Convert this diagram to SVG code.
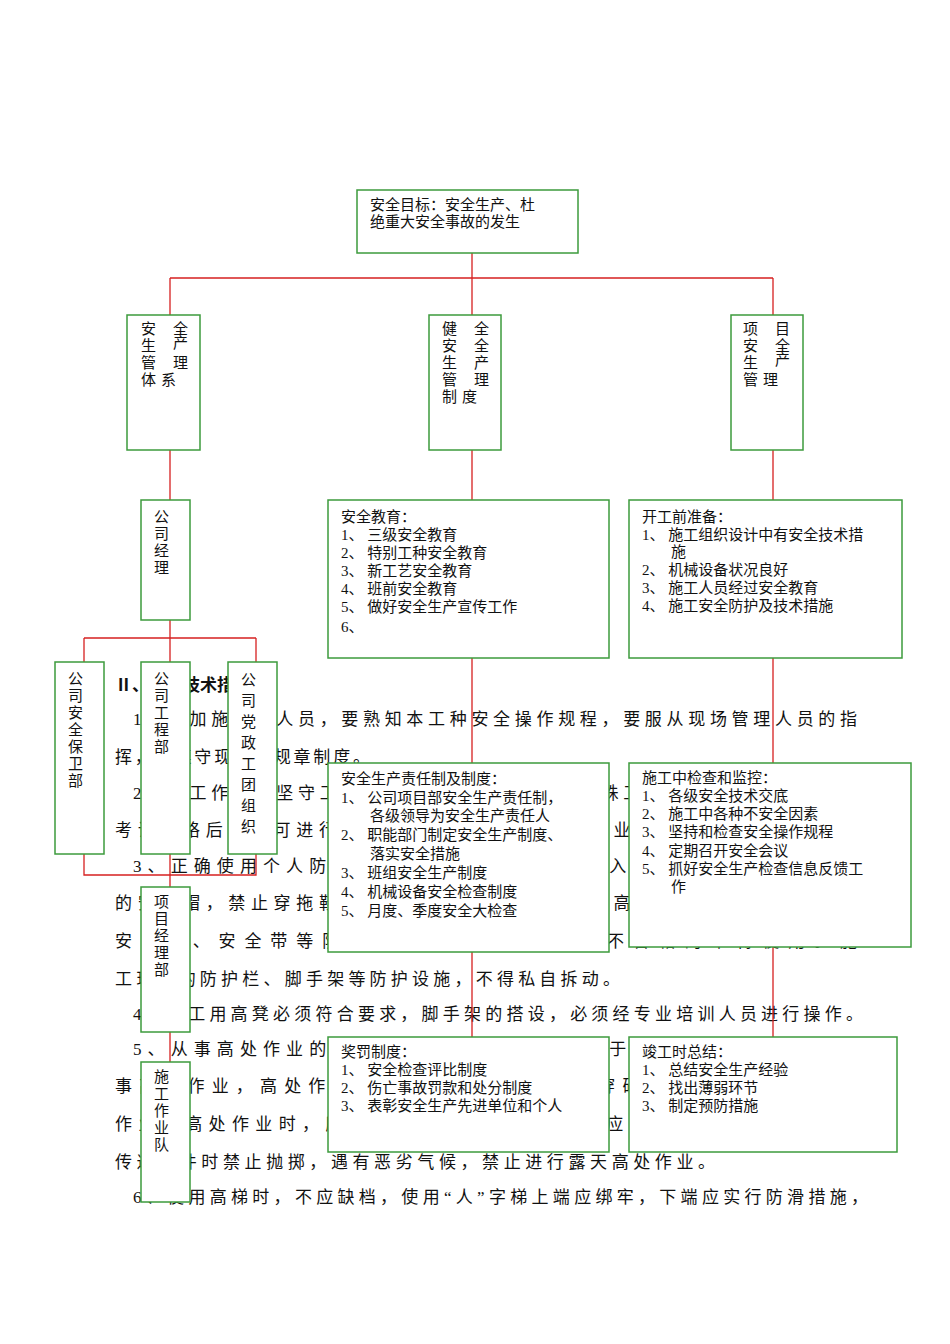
<svg xmlns="http://www.w3.org/2000/svg" width="950" height="1344" viewBox="0 0 950 1344">
<style>
.b{fill:#fff;stroke:#3c9b3c;stroke-width:1.5}
.l{stroke:#d62020;stroke-width:1.3;fill:none}
.t{font-family:"Liberation Serif","Noto Sans CJK SC",serif;font-size:15px;fill:#111}
.p{font-family:"Liberation Serif","Noto Sans CJK SC",serif;font-size:17px;fill:#111}
</style>
<rect width="950" height="1344" fill="#fff"/>
<g id="body">
<text class="p" x="115" y="691" font-weight="bold">Ⅱ、安全技术措施</text>
<text class="p" x="133" y="725" textLength="724" lengthAdjust="spacing">1、参加施工的人员，要熟知本工种安全操作规程，要服从现场管理人员的指</text>
<text class="p" x="115" y="763" textLength="255" lengthAdjust="spacing">挥，要遵守现场的规章制度。</text>
<text class="p" x="133" y="799" textLength="724" lengthAdjust="spacing">2、在工作中要坚守工作岗位，不准随意串岗，特殊工种施工人员必须经培训</text>
<text class="p" x="115" y="836" textLength="742" lengthAdjust="spacing">考试合格后，方可进行独立操作，严禁无证上岗作业，杜绝违章指挥与违章</text>
<text class="p" x="133" y="872" textLength="724" lengthAdjust="spacing">3、正确使用个人防护用品和安全防护措施，进入施工现场必须戴好合格</text>
<text class="p" x="115" y="909" textLength="742" lengthAdjust="spacing">的安全帽，禁止穿拖鞋或光脚，在没有防护设施的高空作业必须系好安全带</text>
<text class="p" x="115" y="947" textLength="742" lengthAdjust="spacing">安全网、安全带等防护用品，不符合要求或不合格的不得使用。施</text>
<text class="p" x="115" y="985" textLength="505" lengthAdjust="spacing">工现场的防护栏、脚手架等防护设施，不得私自拆动。</text>
<text class="p" x="133" y="1020" textLength="730" lengthAdjust="spacing">4、施工用高凳必须符合要求，脚手架的搭设，必须经专业培训人员进行操作。</text>
<text class="p" x="133" y="1055" textLength="724" lengthAdjust="spacing">5、从事高处作业的人员，要定期体检，凡不适于高处作业的人员不得从</text>
<text class="p" x="115" y="1092" textLength="742" lengthAdjust="spacing">事高处作业，高处作业人员衣着要灵便，禁止穿硬底和带钉易滑的鞋靴</text>
<text class="p" x="115" y="1130" textLength="742" lengthAdjust="spacing">作业。高处作业时，所用材料要堆放平稳，工具应随手放入工具袋，应防</text>
<text class="p" x="115" y="1168" textLength="600" lengthAdjust="spacing">传递物件时禁止抛掷，遇有恶劣气候，禁止进行露天高处作业。</text>
<text class="p" x="133" y="1203" textLength="735" lengthAdjust="spacing">6、使用高梯时，不应缺档，使用“人”字梯上端应绑牢，下端应实行防滑措施，</text>
</g>
<g id="connectors">
<path class="l" d="M472 253V278M170 278H773M170 278V315M472 278V315M773 278V315"/>
<path class="l" d="M170 450V500M472 450V500M773 450V500"/>
<path class="l" d="M170 620V662M84 638H256M84 638V662M256 638V662"/>
<path class="l" d="M84 854V875H256V854M170 854V887M170 1032V1062"/>
<path class="l" d="M472 658V763M773 658V763M472 952V1037M773 947V1037"/>
</g>
<g id="goal"><rect class="b" x="357" y="190" width="221" height="63"/>
<text class="t" x="370" y="210">安全目标：安全生产、杜</text><text class="t" x="370" y="227">绝重大安全事故的发生</text></g>
<g id="sys"><rect class="b" x="127" y="315" width="73" height="135"/>
<text class="t" x="141" y="334">安</text><text class="t" x="173" y="334">全</text>
<text class="t" x="141" y="351">生</text><text class="t" x="173" y="348">产</text>
<text class="t" x="141" y="368">管</text><text class="t" x="173" y="368">理</text>
<text class="t" x="141" y="385">体</text><text class="t" x="161" y="385">系</text></g>
<g id="rules"><rect class="b" x="429" y="315" width="72" height="135"/>
<text class="t" x="442" y="334">健</text><text class="t" x="474" y="334">全</text>
<text class="t" x="442" y="351">安</text><text class="t" x="474" y="351">全</text>
<text class="t" x="442" y="368">生</text><text class="t" x="474" y="368">产</text>
<text class="t" x="442" y="385">管</text><text class="t" x="474" y="385">理</text>
<text class="t" x="442" y="402">制</text><text class="t" x="462" y="402">度</text></g>
<g id="proj"><rect class="b" x="731" y="315" width="72" height="135"/>
<text class="t" x="743" y="334">项</text><text class="t" x="775" y="334">目</text>
<text class="t" x="743" y="351">安</text><text class="t" x="775" y="351">全</text>
<text class="t" x="743" y="368">生</text><text class="t" x="775" y="365">产</text>
<text class="t" x="743" y="385">管</text><text class="t" x="763" y="385">理</text></g>
<g id="mgr"><rect class="b" x="141" y="500" width="49" height="120"/>
<text class="t" x="154" y="522">公</text><text class="t" x="154" y="539">司</text><text class="t" x="154" y="556">经</text><text class="t" x="154" y="573">理</text></g>
<g id="edu"><rect class="b" x="328" y="500" width="281" height="158"/>
<text class="t" x="341" y="522">安全教育：</text>
<text class="t" x="341" y="540">1、 三级安全教育</text>
<text class="t" x="341" y="558">2、 特别工种安全教育</text>
<text class="t" x="341" y="576">3、 新工艺安全教育</text>
<text class="t" x="341" y="594">4、 班前安全教育</text>
<text class="t" x="341" y="612">5、 做好安全生产宣传工作</text>
<text class="t" x="341" y="632">6、</text></g>
<g id="prep"><rect class="b" x="629" y="500" width="273" height="158"/>
<text class="t" x="642" y="522">开工前准备：</text>
<text class="t" x="642" y="540">1、 施工组织设计中有安全技术措</text>
<text class="t" x="671" y="557">施</text>
<text class="t" x="642" y="575">2、 机械设备状况良好</text>
<text class="t" x="642" y="593">3、 施工人员经过安全教育</text>
<text class="t" x="642" y="611">4、 施工安全防护及技术措施</text></g>
<g id="guard"><rect class="b" x="55" y="662" width="49" height="192"/>
<text class="t" x="68" y="684">公</text><text class="t" x="68" y="701">司</text><text class="t" x="68" y="718">安</text><text class="t" x="68" y="735">全</text><text class="t" x="68" y="752">保</text><text class="t" x="68" y="769">卫</text><text class="t" x="68" y="786">部</text></g>
<g id="eng"><rect class="b" x="141" y="662" width="49" height="192"/>
<text class="t" x="154" y="684">公</text><text class="t" x="154" y="701">司</text><text class="t" x="154" y="718">工</text><text class="t" x="154" y="735">程</text><text class="t" x="154" y="752">部</text></g>
<g id="party"><rect class="b" x="228" y="662" width="49" height="192"/>
<text class="t" x="241" y="685">公</text><text class="t" x="241" y="706">司</text><text class="t" x="241" y="727">党</text><text class="t" x="241" y="748">政</text><text class="t" x="241" y="769">工</text><text class="t" x="241" y="790">团</text><text class="t" x="241" y="811">组</text><text class="t" x="241" y="832">织</text></g>
<g id="resp"><rect class="b" x="328" y="763" width="281" height="189"/>
<text class="t" x="341" y="784">安全生产责任制及制度：</text>
<text class="t" x="341" y="803">1、 公司项目部安全生产责任制，</text>
<text class="t" x="370" y="821">各级领导为安全生产责任人</text>
<text class="t" x="341" y="840">2、 职能部门制定安全生产制度、</text>
<text class="t" x="370" y="859">落实安全措施</text>
<text class="t" x="341" y="878">3、 班组安全生产制度</text>
<text class="t" x="341" y="897">4、 机械设备安全检查制度</text>
<text class="t" x="341" y="916">5、 月度、季度安全大检查</text></g>
<g id="check"><rect class="b" x="629" y="763" width="282" height="184"/>
<text class="t" x="642" y="783">施工中检查和监控：</text>
<text class="t" x="642" y="801">1、 各级安全技术交底</text>
<text class="t" x="642" y="819">2、 施工中各种不安全因素</text>
<text class="t" x="642" y="837">3、 坚持和检查安全操作规程</text>
<text class="t" x="642" y="856">4、 定期召开安全会议</text>
<text class="t" x="642" y="874">5、 抓好安全生产检查信息反馈工</text>
<text class="t" x="671" y="892">作</text></g>
<g id="pm"><rect class="b" x="141" y="887" width="49" height="145"/>
<text class="t" x="154" y="907">项</text><text class="t" x="154" y="924">目</text><text class="t" x="154" y="941">经</text><text class="t" x="154" y="958">理</text><text class="t" x="154" y="975">部</text></g>
<g id="team"><rect class="b" x="141" y="1062" width="49" height="140"/>
<text class="t" x="154" y="1082">施</text><text class="t" x="154" y="1099">工</text><text class="t" x="154" y="1116">作</text><text class="t" x="154" y="1133">业</text><text class="t" x="154" y="1150">队</text></g>
<g id="reward"><rect class="b" x="328" y="1037" width="281" height="115"/>
<text class="t" x="341" y="1057">奖罚制度：</text>
<text class="t" x="341" y="1075">1、 安全检查评比制度</text>
<text class="t" x="341" y="1093">2、 伤亡事故罚款和处分制度</text>
<text class="t" x="341" y="1111">3、 表彰安全生产先进单位和个人</text></g>
<g id="sum"><rect class="b" x="629" y="1037" width="268" height="115"/>
<text class="t" x="642" y="1057">竣工时总结：</text>
<text class="t" x="642" y="1075">1、 总结安全生产经验</text>
<text class="t" x="642" y="1093">2、 找出薄弱环节</text>
<text class="t" x="642" y="1111">3、 制定预防措施</text></g>
</svg>
